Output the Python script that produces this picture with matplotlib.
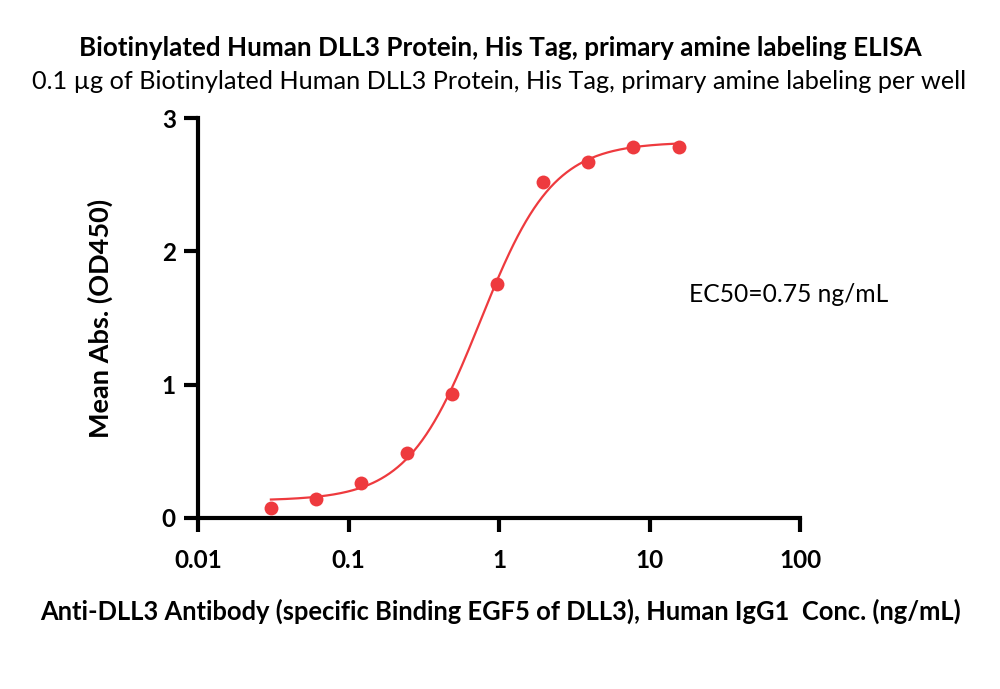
import numpy as np
import matplotlib
matplotlib.use("Agg")
import matplotlib.pyplot as plt

# Data
conc = [0.0305, 0.061, 0.122, 0.244, 0.488, 0.977, 1.95, 3.9, 7.8, 15.6]
od450 = [0.075, 0.14, 0.26, 0.49, 0.93, 1.755, 2.52, 2.67, 2.78, 2.785]
# 4PL fit parameters (bottom, top, EC50, hill)
fit_bottom, fit_top, fit_ec50, fit_hill = 0.13, 2.82, 0.75, 1.8
x_ticks = [0.01, 0.1, 1, 10, 100]
x_tick_labels = ["0.01", "0.1", "1", "10", "100"]
y_ticks = [0, 1, 2, 3]

title = "Biotinylated Human DLL3 Protein, His Tag, primary amine labeling ELISA"
subtitle = "0.1 µg of Biotinylated Human DLL3 Protein, His Tag, primary amine labeling per well"
xlabel = "Anti-DLL3 Antibody (specific Binding EGF5 of DLL3), Human IgG1  Conc. (ng/mL)"
ylabel = "Mean Abs. (OD450)"
ec50_text = "EC50=0.75 ng/mL"

plt.rcParams['font.family'] = ['Lato', 'DejaVu Sans']
red = '#EE3A3E'

fig = plt.figure(figsize=(10, 6.89), dpi=100)
ax = fig.add_axes([0.198, 0.2482, 0.602, 0.5805])

xs = np.logspace(np.log10(conc[0]), np.log10(conc[-1]), 300)
ys = fit_bottom + (fit_top - fit_bottom) / (1 + (fit_ec50 / xs) ** fit_hill)
ax.plot(xs, ys, color=red, lw=1.6, zorder=2)
ax.plot(conc, od450, 'o', color=red, ms=10, mec='none', zorder=3)

ax.set_xscale('log')
ax.set_xlim(0.01, 100)
ax.set_ylim(0, 3)
ax.set_xticks(x_ticks)
ax.set_xticklabels(x_tick_labels)
ax.set_yticks(y_ticks)
ax.minorticks_off()
for s in ['top', 'right']:
    ax.spines[s].set_visible(False)
for s in ['left', 'bottom']:
    ax.spines[s].set_linewidth(3)
ax.tick_params(width=3, length=10, direction='out', labelsize=17.5)
ax.tick_params(axis='x', pad=12)
ax.tick_params(axis='y', pad=6)
for lab in ax.get_xticklabels() + ax.get_yticklabels():
    lab.set_fontweight('bold')

fig.text(0.100, 0.538, ylabel, ha='center', va='center', rotation=90,
         fontsize=19.5, fontweight='bold')
fig.text(0.501, 0.113, xlabel, ha='center', va='center', fontsize=18.4, fontweight='bold')
fig.text(0.5, 0.931, title, ha='center', va='center', fontsize=18.7, fontweight='bold')
fig.text(0.499, 0.882, subtitle, ha='center', va='center', fontsize=18.2)
fig.text(0.689, 0.572, ec50_text, ha='left', va='center', fontsize=17.7)

fig.savefig('out.png', dpi=100)
